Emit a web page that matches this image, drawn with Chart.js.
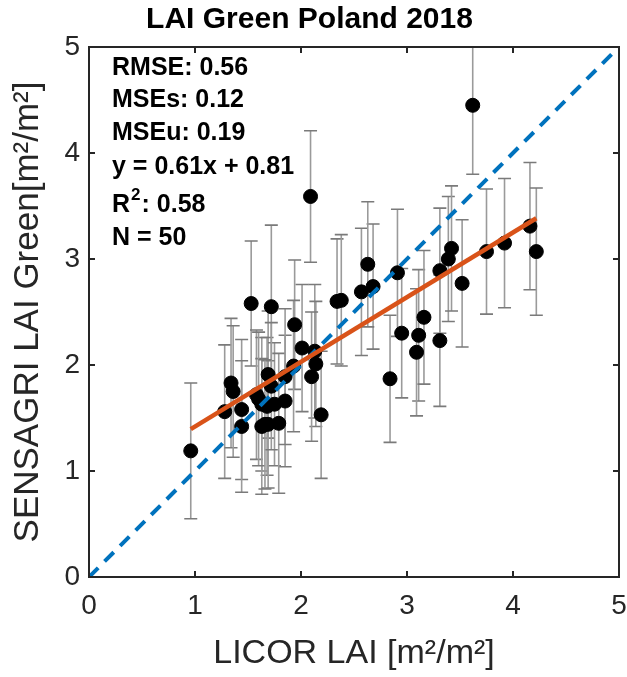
<!DOCTYPE html>
<html>
<head>
<meta charset="utf-8">
<title>LAI Green Poland 2018</title>
<script src="https://cdn.jsdelivr.net/npm/chart.js@4.4.1/dist/chart.umd.min.js"></script>
<style>
  html, body { margin: 0; padding: 0; background: #fff; }
  #wrap { width: 627px; height: 677px; }
</style>
</head>
<body>
<div id="wrap"><canvas id="graficoLai" width="627" height="677"></canvas></div>
<script>
// LICOR (x) vs SENSAGRI (y) LAI green, with per-point uncertainty
const licorLai = [0.96, 1.28, 1.34, 1.36, 1.44, 1.44, 1.53, 1.72, 1.69, 1.58,
  1.63, 1.68, 1.75, 1.85, 1.63, 1.69, 1.79, 1.94, 2.01, 2.13,
  2.14, 2.10, 1.93, 1.85, 2.19, 2.34, 2.38, 2.57, 2.68, 2.84,
  2.63, 2.91, 2.95, 3.11, 3.09, 3.16, 3.31, 3.39, 3.42, 3.31,
  3.52, 3.75, 3.92, 4.16, 4.22, 3.62, 2.09, 1.60, 1.72, 1.66];
const sensagriLai = [1.19, 1.56, 1.83, 1.75, 1.58, 1.42, 2.58, 2.55, 1.91, 1.72,
  1.63, 1.61, 1.63, 1.66, 1.42, 1.44, 1.45, 2.38, 2.16, 2.13,
  2.01, 1.89, 1.99, 1.89, 1.53, 2.60, 2.61, 2.69, 2.74, 1.87,
  2.95, 2.87, 2.30, 2.28, 2.12, 2.45, 2.89, 3.00, 3.10, 2.23,
  2.77, 3.07, 3.15, 3.31, 3.07, 4.45, 3.59, 1.68, 1.80, 1.44];
const laiErro = [0.64, 0.63, 0.61, 0.62, 0.66, 0.62, 0.59, 0.77, 0.60, 0.61,
  0.63, 0.65, 0.58, 0.62, 0.64, 0.60, 0.66, 0.61, 0.60, 0.63,
  0.59, 0.61, 0.62, 0.64, 0.60, 0.59, 0.62, 0.60, 0.59, 0.60,
  0.59, 0.60, 0.61, 0.62, 0.60, 0.63, 0.59, 0.59, 0.59, 0.62,
  0.60, 0.59, 0.61, 0.60, 0.60, 0.65, 0.62, 0.63, 0.60, 0.61];

// fit statistics
const slope = 0.61;
const intercept = 0.81;
const estatisticas = ['RMSE: 0.56', 'MSEs: 0.12', 'MSEu: 0.19', 'y = 0.61x + 0.81', 'R2: 0.58', 'N = 50'];

const axisTicks = [0, 1, 2, 3, 4, 5];
const corTexto = '#262626';
const fonte = '"Liberation Sans", Arial, Helvetica, sans-serif';

const pontos = licorLai.map((x, i) => ({ x: x, y: sensagriLai[i] }));
const xMin = Math.min(...licorLai);
const xMax = Math.max(...licorLai);
const ajuste = [
  { x: xMin, y: slope * xMin + intercept },
  { x: xMax, y: slope * xMax + intercept }
];

// vertical error bars, drawn under the markers
const errorBars = {
  id: 'errorBars',
  beforeDatasetsDraw(chart) {
    const { ctx, chartArea, scales: { x, y } } = chart;
    ctx.save();
    ctx.beginPath();
    ctx.rect(chartArea.left, chartArea.top, chartArea.right - chartArea.left, chartArea.bottom - chartArea.top);
    ctx.clip();
    licorLai.forEach((xv, i) => {
      const px = x.getPixelForValue(xv);
      const top = y.getPixelForValue(sensagriLai[i] + laiErro[i]);
      const bot = y.getPixelForValue(sensagriLai[i] - laiErro[i]);
      ctx.strokeStyle = '#9a9a9a';
      ctx.lineWidth = 1.6;
      ctx.beginPath();
      ctx.moveTo(px, top); ctx.lineTo(px, bot);
      ctx.stroke();
      ctx.strokeStyle = '#7a7a7a';
      ctx.beginPath();
      ctx.moveTo(px - 6.5, top); ctx.lineTo(px + 6.5, top);
      ctx.moveTo(px - 6.5, bot); ctx.lineTo(px + 6.5, bot);
      ctx.stroke();
    });
    ctx.restore();
  }
};

// box with inward ticks on all sides
const moldura = {
  id: 'moldura',
  afterDraw(chart) {
    const { ctx, chartArea: a, scales: { x, y } } = chart;
    ctx.save();
    ctx.strokeStyle = corTexto;
    ctx.lineWidth = 2;
    ctx.strokeRect(a.left, a.top, a.right - a.left, a.bottom - a.top);
    ctx.beginPath();
    axisTicks.forEach(v => {
      const px = x.getPixelForValue(v);
      ctx.moveTo(px, a.bottom); ctx.lineTo(px, a.bottom - 6);
      ctx.moveTo(px, a.top); ctx.lineTo(px, a.top + 6);
      const py = y.getPixelForValue(v);
      ctx.moveTo(a.left, py); ctx.lineTo(a.left + 6, py);
      ctx.moveTo(a.right, py); ctx.lineTo(a.right - 6, py);
    });
    ctx.stroke();
    ctx.restore();
  }
};

// statistics block in the upper-left corner
const textoEstatisticas = {
  id: 'textoEstatisticas',
  afterDraw(chart) {
    const { ctx, chartArea: a } = chart;
    const linhas = [21, 53, 86, 120, 158, 191];
    ctx.save();
    ctx.fillStyle = '#000';
    ctx.font = 'bold 25px ' + fonte;
    ctx.textBaseline = 'middle';
    ctx.textAlign = 'left';
    const x0 = a.left + 23;
    estatisticas.forEach((t, i) => {
      const yy = a.top + linhas[i];
      if (t.startsWith('R2')) {
        ctx.fillText('R', x0, yy);
        const w = ctx.measureText('R').width;
        ctx.font = 'bold 17px ' + fonte;
        ctx.fillText('2', x0 + w + 1, yy - 10);
        const w2 = ctx.measureText('2').width;
        ctx.font = 'bold 25px ' + fonte;
        ctx.fillText(t.slice(2), x0 + w + w2 + 2, yy);
      } else {
        ctx.fillText(t, x0, yy);
      }
    });
    ctx.restore();
  }
};

const graficoLai = document.getElementById('graficoLai');
new Chart(graficoLai, {
  type: 'scatter',
  data: {
    datasets: [
      {
        label: 'SENSAGRI',
        data: pontos,
        backgroundColor: '#000',
        borderColor: '#000',
        pointRadius: 7,
        pointHoverRadius: 7,
        order: 3
      },
      {
        label: '1:1',
        type: 'line',
        data: [{ x: 0, y: 0 }, { x: 5, y: 5 }],
        borderColor: '#0072BD',
        borderWidth: 4,
        borderDash: [13, 9],
        pointRadius: 0,
        fill: false,
        order: 2
      },
      {
        label: 'Ajuste',
        type: 'line',
        data: ajuste,
        borderColor: '#D95319',
        borderWidth: 4.5,
        pointRadius: 0,
        fill: false,
        order: 1
      }
    ]
  },
  options: {
    responsive: false,
    animation: false,
    events: [],
    layout: { padding: { left: 0, right: 8, top: 0, bottom: 0 } },
    plugins: {
      legend: { display: false },
      tooltip: { enabled: false },
      title: {
        display: true,
        text: 'LAI Green Poland 2018',
        color: '#000',
        font: { family: fonte, size: 30, weight: 'bold' },
        padding: { top: 2, bottom: 9 }
      }
    },
    scales: {
      x: {
        type: 'linear',
        min: 0, max: 5,
        afterFit(scale) { scale.height = 100; scale.paddingLeft = 0; scale.paddingRight = 0; },
        afterBuildTicks(scale) { scale.ticks = axisTicks.map(v => ({ value: v })); },
        grid: { display: false, drawTicks: false },
        border: { display: false },
        ticks: { color: corTexto, padding: 12, font: { family: fonte, size: 28 } },
        title: {
          display: true,
          text: 'LICOR LAI [m²/m²]',
          color: corTexto,
          font: { family: fonte, size: 34 },
          padding: { top: 0, bottom: 3 }
        }
      },
      y: {
        type: 'linear',
        min: 0, max: 5,
        afterFit(scale) { scale.width = 89; scale.paddingTop = 0; scale.paddingBottom = 0; },
        afterBuildTicks(scale) { scale.ticks = axisTicks.map(v => ({ value: v })); },
        grid: { display: false, drawTicks: false },
        border: { display: false },
        ticks: { color: corTexto, padding: 9, font: { family: fonte, size: 28 } },
        title: {
          display: true,
          text: 'SENSAGRI LAI Green[m²/m²]',
          color: corTexto,
          font: { family: fonte, size: 35 },
          padding: { top: 7, bottom: 0 }
        }
      }
    }
  },
  plugins: [errorBars, moldura, textoEstatisticas]
});
</script>
</body>
</html>
